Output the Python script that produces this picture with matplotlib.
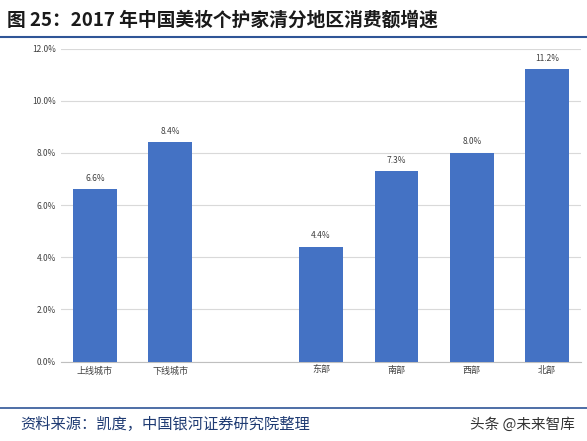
import matplotlib
matplotlib.use("Agg")
import matplotlib.pyplot as plt

plt.rcParams['font.family'] = ['Noto Sans CJK SC', 'DejaVu Sans']

categories = ["上线城市", "下线城市", "", "东部", "南部", "西部", "北部"]
values = [6.6, 8.4, None, 4.4, 7.3, 8.0, 11.2]
yticks = [0, 2, 4, 6, 8, 10, 12]

fig = plt.figure(figsize=(5.87, 4.41), dpi=100)
fig.text(0.012, 0.955, "图 25：2017 年中国美妆个护家清分地区消费额增速", fontsize=13.5,
         fontweight='bold', color='#1a1a1a', va='center', ha='left')
fig.add_artist(plt.Line2D([0.0, 1.0], [0.915, 0.915], color='#2f5597', lw=1.5))
fig.add_artist(plt.Line2D([0.0, 1.0], [0.075, 0.075], color='#2f5597', lw=1.2))
fig.text(0.035, 0.037, "资料来源：凯度，中国银河证券研究院整理", fontsize=11,
         style='italic', color='#1f3b73', va='center', ha='left')
fig.text(0.98, 0.037, "头条 @未来智库", fontsize=10.5, color='#333333', va='center', ha='right')

ax = fig.add_axes([0.104, 0.18, 0.886, 0.71])
xs = [i for i, v in enumerate(values) if v is not None]
vs = [v for v in values if v is not None]
ax.bar(xs, vs, width=0.58, color='#4472c4', zorder=3)
for x, v in zip(xs, vs):
    ax.text(x, v + 0.25, f"{v:.1f}%", ha='center', va='bottom', fontsize=6, color='#404040')
ax.set_xticks(range(len(categories)))
ax.set_xticklabels(categories, fontsize=6.5, color='#404040')
ax.set_yticks(yticks)
ax.set_yticklabels([f"{t:.1f}%" for t in yticks], fontsize=6, color='#404040')
ax.set_ylim(0, 12)
ax.set_xlim(-0.45, len(categories) - 0.55)
ax.yaxis.grid(True, color='#d9d9d9', lw=0.8, zorder=0)
for s in ['top', 'right', 'left']:
    ax.spines[s].set_visible(False)
ax.spines['bottom'].set_color('#bfbfbf')
ax.tick_params(length=0)
fig.savefig("out.png", dpi=100)
